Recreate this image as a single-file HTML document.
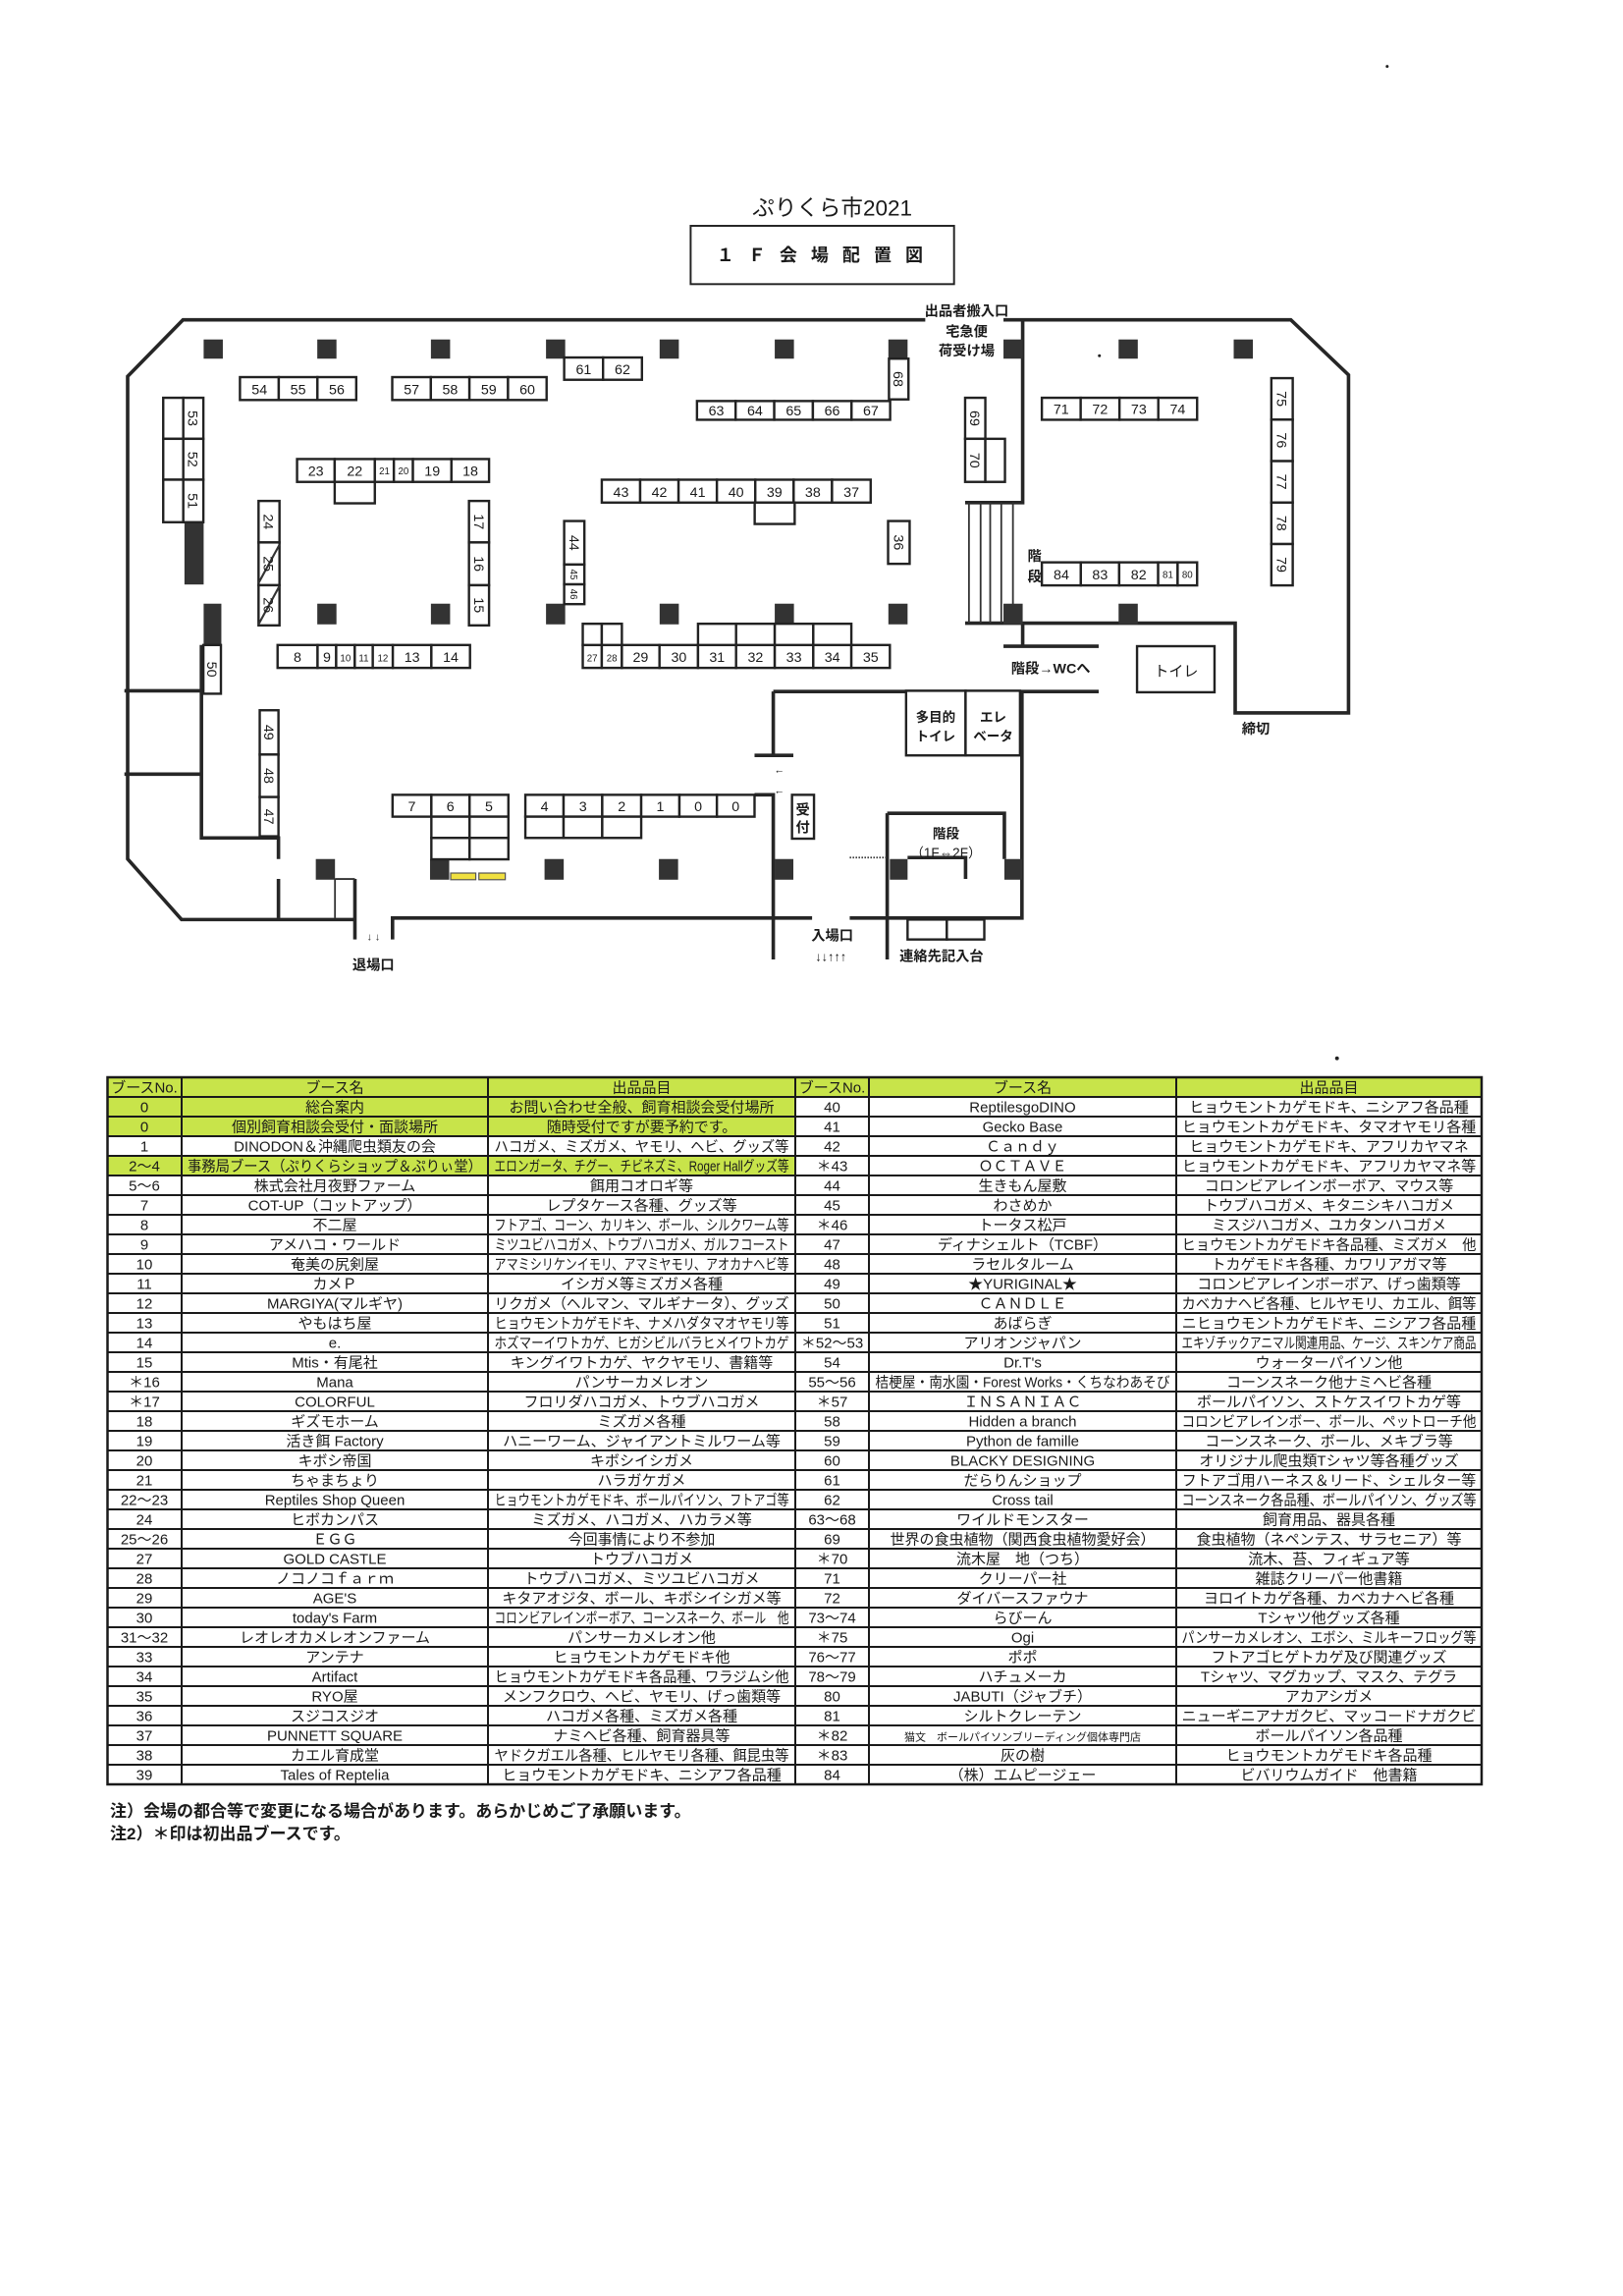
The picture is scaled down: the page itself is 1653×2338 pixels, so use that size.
<!DOCTYPE html>
<html><head><meta charset="utf-8">
<style>
html,body{margin:0;padding:0;background:#fff;}
svg{display:block;}
text{font-family:"Liberation Sans","Noto Sans CJK JP",sans-serif;fill:#1a1a1a;}
.fp text{text-anchor:middle;}
.n{font-size:9.5px;}
.s{font-size:6.5px;}
.lb{font-size:9.5px;font-weight:bold;}
#tbl text{text-anchor:middle;font-size:15px;}
</style></head><body>
<svg width="1653" height="2338" viewBox="0 0 1653 2338" xmlns="http://www.w3.org/2000/svg">
<rect width="1653" height="2338" fill="#fff"/>
<g class="fp" transform="scale(1.503)">
<text x="564" y="146" style="font-size:15px">ぷりくら市2021</text>
<rect x="468" y="153" width="178.5" height="39.5" fill="none" stroke="#222" stroke-width="1.3"/>
<text x="557" y="177" style="font-size:12px;font-weight:bold;letter-spacing:3px">１ Ｆ 会 場 配 置 図</text>

<g fill="none" stroke="#262626" stroke-width="2.4">
<path d="M627 216.7H124L86.5 255V582L123 623H240.5"/>
<path d="M680 216.7H874.7L913.8 254V483H837V422.2H654"/>
<path d="M693 216.7V340.5H654"/>
<path d="M693 422V437.5M680 437.8H744.5M524 468.5H744.5"/>
<path d="M524 468.5V511.8M511.3 511.8H537.6"/>
<path d="M511.3 538.5H524V650"/>
<path d="M266 636.5V622H550.3M240.5 595.5V636.5"/>
<path d="M575.8 622H692.5V468M601.2 551V650M601.2 551H680.6V582"/>
<path d="M615 581H654.3V595.5"/>
<path d="M84.3 468H136.5M84.3 524.5H136.5M136.5 437V567.7H188.7V582M188.7 595.5V622"/>
</g>
<g fill="none" stroke="#333" stroke-width="1.2">
<path d="M227 595.5H240.5M227 595.5V622"/>
<path d="M656.6 340.5V422M664.5 340.5V422M671 340.5V422M678.5 340.5V422M686.4 340.5V422"/>
<path d="M575.8 581H601.2" stroke-dasharray="1 1"/>
</g>
<g fill="#333">
<rect x="138" y="230" width="13" height="13"/><rect x="215" y="230" width="13" height="13"/><rect x="292" y="230" width="13" height="13"/><rect x="370" y="230" width="13" height="13"/><rect x="447" y="230" width="13" height="13"/><rect x="525" y="230" width="13" height="13"/><rect x="602" y="230" width="13" height="13"/><rect x="680" y="230" width="13" height="13"/><rect x="758" y="230" width="13" height="13"/><rect x="836" y="230" width="13" height="13"/>
<rect x="215" y="409" width="13" height="14"/><rect x="292" y="409" width="13" height="14"/><rect x="370" y="409" width="13" height="14"/><rect x="447" y="409" width="13" height="14"/><rect x="525" y="409" width="13" height="14"/><rect x="602" y="409" width="13" height="14"/><rect x="680" y="409" width="13" height="14"/><rect x="758" y="409" width="13" height="14"/>
<rect x="214" y="582" width="13" height="14"/><rect x="291.4" y="582" width="13" height="14"/><rect x="369" y="582" width="13" height="14"/><rect x="446.5" y="582" width="13" height="14"/><rect x="525" y="582" width="12.6" height="14"/><rect x="603" y="582" width="12" height="14"/><rect x="680.6" y="582" width="12" height="14"/>
<rect x="138" y="409" width="12" height="28"/><rect x="125" y="354" width="13" height="42"/>
</g>
<rect x="305.4" y="591.5" width="17" height="4.5" fill="#f0e040" stroke="#555" stroke-width="0.8"/>
<rect x="324.5" y="591.5" width="17.9" height="4.5" fill="#f0e040" stroke="#555" stroke-width="0.8"/>

<g fill="#fff" stroke="#222" stroke-width="1.6">
<rect x="162.6" y="255.5" width="26.3" height="15.5"/><rect x="188.9" y="255.5" width="26.2" height="15.5"/><rect x="215.1" y="255.5" width="26.3" height="15.5"/>
<rect x="265.8" y="255.5" width="26.15" height="15.5"/><rect x="291.95" y="255.5" width="26.15" height="15.5"/><rect x="318.1" y="255.5" width="26.15" height="15.5"/><rect x="344.25" y="255.5" width="26.15" height="15.5"/>
<rect x="382.3" y="242.2" width="26.35" height="15.1"/><rect x="408.65" y="242.2" width="26.35" height="15.1"/>
<rect x="472.3" y="271.7" width="26.18" height="12.7"/><rect x="498.48" y="271.7" width="26.18" height="12.7"/><rect x="524.66" y="271.7" width="26.18" height="12.7"/><rect x="550.84" y="271.7" width="26.18" height="12.7"/><rect x="577.02" y="271.7" width="26.18" height="12.7"/>
<rect x="602.4" y="243" width="13.2" height="27.6"/>
<rect x="201.3" y="311" width="25.5" height="15.5"/><rect x="226.8" y="311" width="27.2" height="15.5"/><rect x="254" y="311" width="12.9" height="15.5"/><rect x="266.9" y="311" width="12.9" height="15.5"/><rect x="279.8" y="311" width="26.1" height="15.5"/><rect x="305.9" y="311" width="25.5" height="15.5"/>
<rect x="226.8" y="326.5" width="27.2" height="14.5"/>
<rect x="407.8" y="325" width="26" height="15.5"/><rect x="433.8" y="325" width="26" height="15.5"/><rect x="459.8" y="325" width="26" height="15.5"/><rect x="485.8" y="325" width="26" height="15.5"/><rect x="511.8" y="325" width="26" height="15.5"/><rect x="537.8" y="325" width="26" height="15.5"/><rect x="563.8" y="325" width="26.2" height="15.5"/>
<rect x="511.4" y="340.5" width="27.1" height="14.5"/>
<rect x="188.1" y="437" width="27.1" height="15.5"/><rect x="215.2" y="437" width="12.6" height="15.5"/><rect x="227.8" y="437" width="12.6" height="15.5"/><rect x="240.4" y="437" width="12.2" height="15.5"/><rect x="252.6" y="437" width="13.6" height="15.5"/><rect x="266.2" y="437" width="26.1" height="15.5"/><rect x="292.3" y="437" width="26.2" height="15.5"/>
<rect x="394.9" y="437" width="12.9" height="15.5"/><rect x="407.8" y="437" width="13.6" height="15.5"/><rect x="421.4" y="437" width="25.5" height="15.5"/><rect x="446.9" y="437" width="26.1" height="15.5"/><rect x="473" y="437" width="25.8" height="15.5"/><rect x="498.8" y="437" width="26.2" height="15.5"/><rect x="525" y="437" width="26.1" height="15.5"/><rect x="551.1" y="437" width="25.8" height="15.5"/><rect x="576.9" y="437" width="26.1" height="15.5"/>
<rect x="394.9" y="422.6" width="12.9" height="14.4"/><rect x="407.8" y="422.6" width="13.6" height="14.4"/>
<rect x="473" y="422.6" width="25.8" height="14.4"/><rect x="498.8" y="422.6" width="26.2" height="14.4"/><rect x="525" y="422.6" width="26.1" height="14.4"/><rect x="551.1" y="422.6" width="25.8" height="14.4"/>
<rect x="706" y="269.5" width="26.3" height="14.9"/><rect x="732.3" y="269.5" width="26.3" height="14.9"/><rect x="758.6" y="269.5" width="26.3" height="14.9"/><rect x="784.9" y="269.5" width="26.3" height="14.9"/>
<rect x="706" y="381" width="26.4" height="15.6"/><rect x="732.4" y="381" width="26" height="15.6"/><rect x="758.4" y="381" width="26.4" height="15.6"/><rect x="784.8" y="381" width="13.2" height="15.6"/><rect x="798" y="381" width="13.2" height="15.6"/>
<rect x="266" y="538.5" width="26.3" height="14.8"/><rect x="292.3" y="538.5" width="25.9" height="14.8"/><rect x="318.2" y="538.5" width="26.3" height="14.8"/>
<rect x="292.3" y="553.3" width="25.9" height="14.4"/><rect x="318.2" y="553.3" width="26.3" height="14.4"/><rect x="292.3" y="567.7" width="25.9" height="14.5"/><rect x="318.2" y="567.7" width="26.3" height="14.5"/>
<rect x="356" y="538.5" width="25.9" height="14.8"/><rect x="381.9" y="538.5" width="26.2" height="14.8"/><rect x="408.1" y="538.5" width="26.4" height="14.8"/><rect x="434.5" y="538.5" width="25.9" height="14.8"/><rect x="460.4" y="538.5" width="25.4" height="14.8"/><rect x="485.8" y="538.5" width="25.5" height="14.8"/>
<rect x="356" y="553.3" width="25.9" height="14.4"/><rect x="381.9" y="553.3" width="26.2" height="14.4"/><rect x="408.1" y="553.3" width="26.4" height="14.4"/>
<rect x="110.6" y="269.5" width="13.6" height="27.8"/><rect x="124.2" y="269.5" width="13.6" height="27.8"/>
<rect x="110.6" y="297.3" width="13.6" height="27.7"/><rect x="124.2" y="297.3" width="13.6" height="27.7"/>
<rect x="110.6" y="325" width="13.6" height="28.8"/><rect x="124.2" y="325" width="13.6" height="28.8"/>
<rect x="175.2" y="339.4" width="14.2" height="28.1"/><rect x="175.2" y="367.5" width="14.2" height="29"/><rect x="175.2" y="396.5" width="14.2" height="27.2"/>
<rect x="317.8" y="339.4" width="13.6" height="28.1"/><rect x="317.8" y="367.5" width="13.6" height="29"/><rect x="317.8" y="396.5" width="13.6" height="27.2"/>
<rect x="382.3" y="353" width="13.7" height="29.5"/><rect x="382.3" y="382.5" width="13.7" height="13.4"/><rect x="382.3" y="395.9" width="13.7" height="13.4"/>
<rect x="654" y="269.5" width="13.7" height="27.8"/><rect x="654" y="297.3" width="13.7" height="29.2"/><rect x="667.7" y="297.3" width="13.3" height="29.2"/>
<rect x="861.5" y="256.2" width="14.5" height="28.1"/><rect x="861.5" y="284.3" width="14.5" height="28.1"/><rect x="861.5" y="312.4" width="14.5" height="28.1"/><rect x="861.5" y="340.5" width="14.5" height="28.1"/><rect x="861.5" y="368.6" width="14.5" height="28"/>
<rect x="601.8" y="353" width="14.6" height="29"/>
<rect x="176" y="481.2" width="12.7" height="30"/><rect x="176" y="511.2" width="12.7" height="28.8"/><rect x="176" y="540" width="12.7" height="26.6"/>
<rect x="137.8" y="437" width="11.9" height="33"/>
<rect x="536.7" y="538.5" width="14.9" height="29.7"/>
<rect x="770.5" y="437.8" width="52.5" height="31.2"/>
<rect x="614" y="468" width="40.3" height="43.8"/><rect x="654.3" y="468" width="36.9" height="43.8"/>
<rect x="615" y="623" width="26.6" height="13.5"/><rect x="641.6" y="623" width="25.4" height="13.5"/>
</g>
<path d="M189.4 369L175.2 395M189.4 397L175.2 423" stroke="#333" stroke-width="1.4"/>

<g class="n">
<text x="175.8" y="267">54</text><text x="202" y="267">55</text><text x="228.2" y="267">56</text>
<text x="278.9" y="267">57</text><text x="305" y="267">58</text><text x="331.2" y="267">59</text><text x="357.3" y="267">60</text>
<text x="395.5" y="253.5">61</text><text x="421.8" y="253.5">62</text>
<text x="485.4" y="281.5">63</text><text x="511.6" y="281.5">64</text><text x="537.8" y="281.5">65</text><text x="563.9" y="281.5">66</text><text x="590.1" y="281.5">67</text>
<text x="214" y="322.5">23</text><text x="240.4" y="322.5">22</text><text x="260.5" y="321.5" class="s">21</text><text x="273.4" y="321.5" class="s">20</text><text x="292.9" y="322.5">19</text><text x="318.7" y="322.5">18</text>
<text x="420.8" y="336.5">43</text><text x="446.8" y="336.5">42</text><text x="472.8" y="336.5">41</text><text x="498.8" y="336.5">40</text><text x="524.8" y="336.5">39</text><text x="550.8" y="336.5">38</text><text x="576.9" y="336.5">37</text>
<text x="201.6" y="448.5">8</text><text x="221.5" y="448.5">9</text><text x="234.1" y="448" class="s">10</text><text x="246.5" y="448" class="s">11</text><text x="259.4" y="448" class="s">12</text><text x="279.2" y="448.5">13</text><text x="305.4" y="448.5">14</text>
<text x="401.3" y="448" class="s">27</text><text x="414.6" y="448" class="s">28</text><text x="434.1" y="448.5">29</text><text x="460" y="448.5">30</text><text x="485.9" y="448.5">31</text><text x="511.9" y="448.5">32</text><text x="538" y="448.5">33</text><text x="564" y="448.5">34</text><text x="590" y="448.5">35</text>
<text x="719.1" y="280.5">71</text><text x="745.4" y="280.5">72</text><text x="771.7" y="280.5">73</text><text x="798" y="280.5">74</text>
<text x="719.2" y="392.5">84</text><text x="745.4" y="392.5">83</text><text x="771.6" y="392.5">82</text><text x="791.4" y="391.5" class="s">81</text><text x="804.6" y="391.5" class="s">80</text>
<text x="279.1" y="549.5">7</text><text x="305.2" y="549.5">6</text><text x="331.3" y="549.5">5</text>
<text x="369" y="549.5">4</text><text x="395" y="549.5">3</text><text x="421.3" y="549.5">2</text><text x="447.4" y="549.5">1</text><text x="473.1" y="549.5">0</text><text x="498.5" y="549.5">0</text>
</g>
<g class="n">
<text transform="translate(127.5,283.4) rotate(90)">53</text>
<text transform="translate(127.5,311.2) rotate(90)">52</text>
<text transform="translate(127.5,339.4) rotate(90)">51</text>
<text transform="translate(178.8,353.5) rotate(90)">24</text>
<text transform="translate(178.8,382) rotate(90)">25</text>
<text transform="translate(178.8,410) rotate(90)">26</text>
<text transform="translate(321.2,353.5) rotate(90)">17</text>
<text transform="translate(321.2,382) rotate(90)">16</text>
<text transform="translate(321.2,410) rotate(90)">15</text>
<text transform="translate(385.8,367.8) rotate(90)">44</text>
<text transform="translate(386.5,389.2) rotate(90)" class="s">45</text>
<text transform="translate(386.5,402.6) rotate(90)" class="s">46</text>
<text transform="translate(605.6,256.8) rotate(90)">68</text>
<text transform="translate(657.5,283.4) rotate(90)">69</text>
<text transform="translate(657.5,311.9) rotate(90)">70</text>
<text transform="translate(865.3,270.2) rotate(90)">75</text>
<text transform="translate(865.3,298.3) rotate(90)">76</text>
<text transform="translate(865.3,326.4) rotate(90)">77</text>
<text transform="translate(865.3,354.5) rotate(90)">78</text>
<text transform="translate(865.3,382.6) rotate(90)">79</text>
<text transform="translate(605.7,367.5) rotate(90)">36</text>
<text transform="translate(179,496.2) rotate(90)">49</text>
<text transform="translate(179,525.6) rotate(90)">48</text>
<text transform="translate(179,553.3) rotate(90)">47</text>
<text transform="translate(140.5,453.5) rotate(90)">50</text>
</g>
<g class="lb">
<text x="544" y="552">受</text><text x="544" y="564">付</text>
<text x="655" y="214">出品者搬入口</text>
<text x="655" y="228">宅急便</text>
<text x="655" y="241">荷受け場</text>
<text x="701" y="380">階</text><text x="701" y="394">段</text>
<text x="712" y="456">階段→WCへ</text>
<text x="797" y="458" style="font-weight:normal;font-size:10px">トイレ</text>
<text x="851" y="497">締切</text>
<text x="634" y="489" style="font-size:9px">多目的</text><text x="634" y="502" style="font-size:9px">トイレ</text>
<text x="673" y="489" style="font-size:9px">エレ</text><text x="673" y="502" style="font-size:9px">ベータ</text>
<text x="641" y="568" style="font-size:9px">階段</text>
<text x="641" y="581" style="font-size:9px;font-weight:normal">（1F⇔2F）</text>
<text x="253" y="637" style="font-size:7px;font-weight:normal">↓ ↓</text>
<text x="253" y="657">退場口</text>
<text x="564" y="637">入場口</text>
<text x="563" y="651" style="font-size:8.5px;font-weight:normal">↓↓↑↑↑</text>
<text x="638" y="651">連絡先記入台</text>
<text x="528" y="524" style="font-size:7px;font-weight:normal">←</text>
<text x="528" y="538" style="font-size:7px;font-weight:normal">←</text>
</g>
<circle cx="745" cy="241" r="1" fill="#222"/>
<circle cx="906" cy="717" r="1.3" fill="#222"/>
<circle cx="940" cy="45" r="1" fill="#222"/>
</g>

<g id="tbl">
<rect x="109.5" y="1097" width="1399.5" height="20" fill="#c8e44a"/>
<rect x="109.5" y="1117" width="700.5" height="40" fill="#c8e44a"/>
<rect x="109.5" y="1177" width="700.5" height="20" fill="#c8e44a"/>
<g fill="none" stroke="#1a1a1a" stroke-width="2">
<rect x="109.5" y="1097" width="1399.5" height="720" stroke-width="2.5"/>
<path d="M185 1097V1817M497 1097V1817M810 1097V1817M885 1097V1817M1198 1097V1817"/>
<path d="M109.5 1117H1509M109.5 1137H1509M109.5 1157H1509M109.5 1177H1509M109.5 1197H1509M109.5 1217H1509M109.5 1237H1509M109.5 1257H1509M109.5 1277H1509M109.5 1297H1509M109.5 1317H1509M109.5 1337H1509M109.5 1357H1509M109.5 1377H1509M109.5 1397H1509M109.5 1417H1509M109.5 1437H1509M109.5 1457H1509M109.5 1477H1509M109.5 1497H1509M109.5 1517H1509M109.5 1537H1509M109.5 1557H1509M109.5 1577H1509M109.5 1597H1509M109.5 1617H1509M109.5 1637H1509M109.5 1657H1509M109.5 1677H1509M109.5 1697H1509M109.5 1717H1509M109.5 1737H1509M109.5 1757H1509M109.5 1777H1509M109.5 1797H1509"/>
</g>
<g transform="translate(0,1097)"><text x="147" y="15.5" class="a">ブースNo.</text><text x="341" y="15.5" class="b">ブース名</text><text x="653.5" y="15.5" class="b">出品品目</text><text x="847.5" y="15.5" class="a">ブースNo.</text><text x="1041.5" y="15.5" class="b">ブース名</text><text x="1353.5" y="15.5" class="b">出品品目</text></g>
<g transform="translate(0,1117)"><text x="147" y="15.5" class="a">0</text><text x="341" y="15.5" class="b">総合案内</text><text x="653.5" y="15.5" class="b">お問い合わせ全般、飼育相談会受付場所</text><text x="847.5" y="15.5" class="a">40</text><text x="1041.5" y="15.5" class="b">ReptilesgoDINO</text><text x="1353.5" y="15.5" class="b">ヒョウモントカゲモドキ、ニシアフ各品種</text></g>
<g transform="translate(0,1137)"><text x="147" y="15.5" class="a">0</text><text x="341" y="15.5" class="b">個別飼育相談会受付・面談場所</text><text x="653.5" y="15.5" class="b">随時受付ですが要予約です。</text><text x="847.5" y="15.5" class="a">41</text><text x="1041.5" y="15.5" class="b">Gecko Base</text><text x="1353.5" y="15.5" class="b">ヒョウモントカゲモドキ、タマオヤモリ各種</text></g>
<g transform="translate(0,1157)"><text x="147" y="15.5" class="a">1</text><text x="341" y="15.5" class="b">DINODON＆沖縄爬虫類友の会</text><text x="653.5" y="15.5" class="b">ハコガメ、ミズガメ、ヤモリ、ヘビ、グッズ等</text><text x="847.5" y="15.5" class="a">42</text><text x="1041.5" y="15.5" class="b">Ｃａｎｄｙ</text><text x="1353.5" y="15.5" class="b">ヒョウモントカゲモドキ、アフリカヤマネ</text></g>
<g transform="translate(0,1177)"><text x="147" y="15.5" class="a">2～4</text><text x="341" y="15.5" class="b">事務局ブース（ぷりくらショップ＆ぷりぃ堂）</text><text x="653.5" y="15.5" class="b">エロンガータ、チグー、チビネズミ、Roger Hallグッズ等</text><text x="847.5" y="15.5" class="a">＊43</text><text x="1041.5" y="15.5" class="b">ＯＣＴＡＶＥ</text><text x="1353.5" y="15.5" class="b">ヒョウモントカゲモドキ、アフリカヤマネ等</text></g>
<g transform="translate(0,1197)"><text x="147" y="15.5" class="a">5～6</text><text x="341" y="15.5" class="b">株式会社月夜野ファーム</text><text x="653.5" y="15.5" class="b">餌用コオロギ等</text><text x="847.5" y="15.5" class="a">44</text><text x="1041.5" y="15.5" class="b">生きもん屋敷</text><text x="1353.5" y="15.5" class="b">コロンビアレインボーボア、マウス等</text></g>
<g transform="translate(0,1217)"><text x="147" y="15.5" class="a">7</text><text x="341" y="15.5" class="b">COT-UP（コットアップ）</text><text x="653.5" y="15.5" class="b">レプタケース各種、グッズ等</text><text x="847.5" y="15.5" class="a">45</text><text x="1041.5" y="15.5" class="b">わさめか</text><text x="1353.5" y="15.5" class="b">トウブハコガメ、キタニシキハコガメ</text></g>
<g transform="translate(0,1237)"><text x="147" y="15.5" class="a">8</text><text x="341" y="15.5" class="b">不二屋</text><text x="653.5" y="15.5" class="b">フトアゴ、コーン、カリキン、ボール、シルクワーム等</text><text x="847.5" y="15.5" class="a">＊46</text><text x="1041.5" y="15.5" class="b">トータス松戸</text><text x="1353.5" y="15.5" class="b">ミスジハコガメ、ユカタンハコガメ</text></g>
<g transform="translate(0,1257)"><text x="147" y="15.5" class="a">9</text><text x="341" y="15.5" class="b">アメハコ・ワールド</text><text x="653.5" y="15.5" class="b">ミツユビハコガメ、トウブハコガメ、ガルフコースト</text><text x="847.5" y="15.5" class="a">47</text><text x="1041.5" y="15.5" class="b">ディナシェルト（TCBF）</text><text x="1353.5" y="15.5" class="b">ヒョウモントカゲモドキ各品種、ミズガメ　他</text></g>
<g transform="translate(0,1277)"><text x="147" y="15.5" class="a">10</text><text x="341" y="15.5" class="b">奄美の尻剣屋</text><text x="653.5" y="15.5" class="b">アマミシリケンイモリ、アマミヤモリ、アオカナヘビ等</text><text x="847.5" y="15.5" class="a">48</text><text x="1041.5" y="15.5" class="b">ラセルタルーム</text><text x="1353.5" y="15.5" class="b">トカゲモドキ各種、カワリアガマ等</text></g>
<g transform="translate(0,1297)"><text x="147" y="15.5" class="a">11</text><text x="341" y="15.5" class="b">カメＰ</text><text x="653.5" y="15.5" class="b">イシガメ等ミズガメ各種</text><text x="847.5" y="15.5" class="a">49</text><text x="1041.5" y="15.5" class="b">★YURIGINAL★</text><text x="1353.5" y="15.5" class="b">コロンビアレインボーボア、げっ歯類等</text></g>
<g transform="translate(0,1317)"><text x="147" y="15.5" class="a">12</text><text x="341" y="15.5" class="b">MARGIYA(マルギヤ)</text><text x="653.5" y="15.5" class="b">リクガメ（ヘルマン、マルギナータ）、グッズ</text><text x="847.5" y="15.5" class="a">50</text><text x="1041.5" y="15.5" class="b">ＣＡＮＤＬＥ</text><text x="1353.5" y="15.5" class="b">カベカナヘビ各種、ヒルヤモリ、カエル、餌等</text></g>
<g transform="translate(0,1337)"><text x="147" y="15.5" class="a">13</text><text x="341" y="15.5" class="b">やもはち屋</text><text x="653.5" y="15.5" class="b">ヒョウモントカゲモドキ、ナメハダタマオヤモリ等</text><text x="847.5" y="15.5" class="a">51</text><text x="1041.5" y="15.5" class="b">あばらぎ</text><text x="1353.5" y="15.5" class="b">ニヒョウモントカゲモドキ、ニシアフ各品種</text></g>
<g transform="translate(0,1357)"><text x="147" y="15.5" class="a">14</text><text x="341" y="15.5" class="b">e.</text><text x="653.5" y="15.5" class="b">ホズマーイワトカゲ、ヒガシビルバラヒメイワトカゲ</text><text x="847.5" y="15.5" class="a">＊52～53</text><text x="1041.5" y="15.5" class="b">アリオンジャパン</text><text x="1353.5" y="15.5" class="b">エキゾチックアニマル関連用品、ケージ、スキンケア商品</text></g>
<g transform="translate(0,1377)"><text x="147" y="15.5" class="a">15</text><text x="341" y="15.5" class="b">Mtis・有尾社</text><text x="653.5" y="15.5" class="b">キングイワトカゲ、ヤクヤモリ、書籍等</text><text x="847.5" y="15.5" class="a">54</text><text x="1041.5" y="15.5" class="b">Dr.T's</text><text x="1353.5" y="15.5" class="b">ウォーターパイソン他</text></g>
<g transform="translate(0,1397)"><text x="147" y="15.5" class="a">＊16</text><text x="341" y="15.5" class="b">Mana</text><text x="653.5" y="15.5" class="b">パンサーカメレオン</text><text x="847.5" y="15.5" class="a">55～56</text><text x="1041.5" y="15.5" class="b">桔梗屋・南水園・Forest Works・くちなわあそび</text><text x="1353.5" y="15.5" class="b">コーンスネーク他ナミヘビ各種</text></g>
<g transform="translate(0,1417)"><text x="147" y="15.5" class="a">＊17</text><text x="341" y="15.5" class="b">COLORFUL</text><text x="653.5" y="15.5" class="b">フロリダハコガメ、トウブハコガメ</text><text x="847.5" y="15.5" class="a">＊57</text><text x="1041.5" y="15.5" class="b">ＩＮＳＡＮＩＡＣ</text><text x="1353.5" y="15.5" class="b">ボールパイソン、ストケスイワトカゲ等</text></g>
<g transform="translate(0,1437)"><text x="147" y="15.5" class="a">18</text><text x="341" y="15.5" class="b">ギズモホーム</text><text x="653.5" y="15.5" class="b">ミズガメ各種</text><text x="847.5" y="15.5" class="a">58</text><text x="1041.5" y="15.5" class="b">Hidden a branch</text><text x="1353.5" y="15.5" class="b">コロンビアレインボー、ボール、ペットローチ他</text></g>
<g transform="translate(0,1457)"><text x="147" y="15.5" class="a">19</text><text x="341" y="15.5" class="b">活き餌 Factory</text><text x="653.5" y="15.5" class="b">ハニーワーム、ジャイアントミルワーム等</text><text x="847.5" y="15.5" class="a">59</text><text x="1041.5" y="15.5" class="b">Python de famille</text><text x="1353.5" y="15.5" class="b">コーンスネーク、ボール、メキブラ等</text></g>
<g transform="translate(0,1477)"><text x="147" y="15.5" class="a">20</text><text x="341" y="15.5" class="b">キボシ帝国</text><text x="653.5" y="15.5" class="b">キボシイシガメ</text><text x="847.5" y="15.5" class="a">60</text><text x="1041.5" y="15.5" class="b">BLACKY DESIGNING</text><text x="1353.5" y="15.5" class="b">オリジナル爬虫類Tシャツ等各種グッズ</text></g>
<g transform="translate(0,1497)"><text x="147" y="15.5" class="a">21</text><text x="341" y="15.5" class="b">ちゃまちょり</text><text x="653.5" y="15.5" class="b">ハラガケガメ</text><text x="847.5" y="15.5" class="a">61</text><text x="1041.5" y="15.5" class="b">だらりんショップ</text><text x="1353.5" y="15.5" class="b">フトアゴ用ハーネス＆リード、シェルター等</text></g>
<g transform="translate(0,1517)"><text x="147" y="15.5" class="a">22～23</text><text x="341" y="15.5" class="b">Reptiles Shop Queen</text><text x="653.5" y="15.5" class="b">ヒョウモントカゲモドキ、ボールパイソン、フトアゴ等</text><text x="847.5" y="15.5" class="a">62</text><text x="1041.5" y="15.5" class="b">Cross tail</text><text x="1353.5" y="15.5" class="b">コーンスネーク各品種、ボールパイソン、グッズ等</text></g>
<g transform="translate(0,1537)"><text x="147" y="15.5" class="a">24</text><text x="341" y="15.5" class="b">ヒボカンパス</text><text x="653.5" y="15.5" class="b">ミズガメ、ハコガメ、ハカラメ等</text><text x="847.5" y="15.5" class="a">63～68</text><text x="1041.5" y="15.5" class="b">ワイルドモンスター</text><text x="1353.5" y="15.5" class="b">飼育用品、器具各種</text></g>
<g transform="translate(0,1557)"><text x="147" y="15.5" class="a">25～26</text><text x="341" y="15.5" class="b">ＥＧＧ</text><text x="653.5" y="15.5" class="b">今回事情により不参加</text><text x="847.5" y="15.5" class="a">69</text><text x="1041.5" y="15.5" class="b">世界の食虫植物（関西食虫植物愛好会）</text><text x="1353.5" y="15.5" class="b">食虫植物（ネペンテス、サラセニア）等</text></g>
<g transform="translate(0,1577)"><text x="147" y="15.5" class="a">27</text><text x="341" y="15.5" class="b">GOLD CASTLE</text><text x="653.5" y="15.5" class="b">トウブハコガメ</text><text x="847.5" y="15.5" class="a">＊70</text><text x="1041.5" y="15.5" class="b">流木屋　地（つち）</text><text x="1353.5" y="15.5" class="b">流木、苔、フィギュア等</text></g>
<g transform="translate(0,1597)"><text x="147" y="15.5" class="a">28</text><text x="341" y="15.5" class="b">ノコノコｆａｒｍ</text><text x="653.5" y="15.5" class="b">トウブハコガメ、ミツユビハコガメ</text><text x="847.5" y="15.5" class="a">71</text><text x="1041.5" y="15.5" class="b">クリーパー社</text><text x="1353.5" y="15.5" class="b">雑誌クリーパー他書籍</text></g>
<g transform="translate(0,1617)"><text x="147" y="15.5" class="a">29</text><text x="341" y="15.5" class="b">AGE'S</text><text x="653.5" y="15.5" class="b">キタアオジタ、ボール、キボシイシガメ等</text><text x="847.5" y="15.5" class="a">72</text><text x="1041.5" y="15.5" class="b">ダイバースファウナ</text><text x="1353.5" y="15.5" class="b">ヨロイトカゲ各種、カベカナヘビ各種</text></g>
<g transform="translate(0,1637)"><text x="147" y="15.5" class="a">30</text><text x="341" y="15.5" class="b">today's Farm</text><text x="653.5" y="15.5" class="b">コロンビアレインボーボア、コーンスネーク、ボール　他</text><text x="847.5" y="15.5" class="a">73～74</text><text x="1041.5" y="15.5" class="b">らびーん</text><text x="1353.5" y="15.5" class="b">Tシャツ他グッズ各種</text></g>
<g transform="translate(0,1657)"><text x="147" y="15.5" class="a">31～32</text><text x="341" y="15.5" class="b">レオレオカメレオンファーム</text><text x="653.5" y="15.5" class="b">パンサーカメレオン他</text><text x="847.5" y="15.5" class="a">＊75</text><text x="1041.5" y="15.5" class="b">Ogi</text><text x="1353.5" y="15.5" class="b">パンサーカメレオン、エボシ、ミルキーフロッグ等</text></g>
<g transform="translate(0,1677)"><text x="147" y="15.5" class="a">33</text><text x="341" y="15.5" class="b">アンテナ</text><text x="653.5" y="15.5" class="b">ヒョウモントカゲモドキ他</text><text x="847.5" y="15.5" class="a">76～77</text><text x="1041.5" y="15.5" class="b">ポポ</text><text x="1353.5" y="15.5" class="b">フトアゴヒゲトカゲ及び関連グッズ</text></g>
<g transform="translate(0,1697)"><text x="147" y="15.5" class="a">34</text><text x="341" y="15.5" class="b">Artifact</text><text x="653.5" y="15.5" class="b">ヒョウモントカゲモドキ各品種、ワラジムシ他</text><text x="847.5" y="15.5" class="a">78～79</text><text x="1041.5" y="15.5" class="b">ハチュメーカ</text><text x="1353.5" y="15.5" class="b">Tシャツ、マグカップ、マスク、テグラ</text></g>
<g transform="translate(0,1717)"><text x="147" y="15.5" class="a">35</text><text x="341" y="15.5" class="b">RYO屋</text><text x="653.5" y="15.5" class="b">メンフクロウ、ヘビ、ヤモリ、げっ歯類等</text><text x="847.5" y="15.5" class="a">80</text><text x="1041.5" y="15.5" class="b">JABUTI（ジャブチ）</text><text x="1353.5" y="15.5" class="b">アカアシガメ</text></g>
<g transform="translate(0,1737)"><text x="147" y="15.5" class="a">36</text><text x="341" y="15.5" class="b">スジコスジオ</text><text x="653.5" y="15.5" class="b">ハコガメ各種、ミズガメ各種</text><text x="847.5" y="15.5" class="a">81</text><text x="1041.5" y="15.5" class="b">シルトクレーテン</text><text x="1353.5" y="15.5" class="b">ニューギニアナガクビ、マッコードナガクビ</text></g>
<g transform="translate(0,1757)"><text x="147" y="15.5" class="a">37</text><text x="341" y="15.5" class="b">PUNNETT SQUARE</text><text x="653.5" y="15.5" class="b">ナミヘビ各種、飼育器具等</text><text x="847.5" y="15.5" class="a">＊82</text><text x="1041.5" y="15.5" class="b" style="font-size:11px">猫文　ボールパイソンブリーディング個体専門店</text><text x="1353.5" y="15.5" class="b">ボールパイソン各品種</text></g>
<g transform="translate(0,1777)"><text x="147" y="15.5" class="a">38</text><text x="341" y="15.5" class="b">カエル育成堂</text><text x="653.5" y="15.5" class="b">ヤドクガエル各種、ヒルヤモリ各種、餌昆虫等</text><text x="847.5" y="15.5" class="a">＊83</text><text x="1041.5" y="15.5" class="b">灰の樹</text><text x="1353.5" y="15.5" class="b">ヒョウモントカゲモドキ各品種</text></g>
<g transform="translate(0,1797)"><text x="147" y="15.5" class="a">39</text><text x="341" y="15.5" class="b">Tales of Reptelia</text><text x="653.5" y="15.5" class="b">ヒョウモントカゲモドキ、ニシアフ各品種</text><text x="847.5" y="15.5" class="a">84</text><text x="1041.5" y="15.5" class="b">（株）エムピージェー</text><text x="1353.5" y="15.5" class="b">ビバリウムガイド　他書籍</text></g>
</g>
<text x="112" y="1850" style="font-size:17px;font-weight:bold">注）会場の都合等で変更になる場合があります。あらかじめご了承願います。</text>
<text x="112" y="1873" style="font-size:17px;font-weight:bold">注2）＊印は初出品ブースです。</text>
</svg>
<script>
(function(){
  var ts=document.querySelectorAll('#tbl text');
  for(var i=0;i<ts.length;i++){
    var t=ts[i];var max=t.getAttribute('class')==='a'?68:300;
    try{ if(t.getComputedTextLength()>max){t.setAttribute('textLength',max);t.setAttribute('lengthAdjust','spacingAndGlyphs');} }catch(e){}
  }
})();
</script>
</body></html>
